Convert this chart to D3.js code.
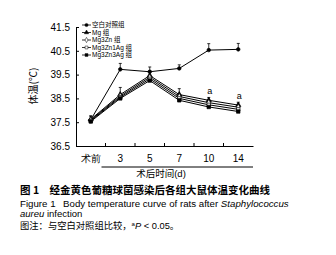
<!DOCTYPE html>
<html><head><meta charset="utf-8">
<script src="https://cdn.jsdelivr.net/npm/d3@7"></script>
<style>body{margin:0;background:#fff}svg{display:block}</style>
</head><body>
<script>
const categories = ["术前","3","5","7","10","14"];
const seriesNames = ["空白对照组","Mg 组","Mg3Zn 组","Mg3Zn1Ag 组","Mg3Zn3Ag 组"];
const control   = [37.6, 39.72, 39.62, 39.76, 40.53, 40.56];
const mg        = [37.62, 38.66, 39.46, 38.66, 38.42, 38.22];
const mg3zn     = [37.59, 38.6, 39.39, 38.58, 38.32, 38.13];
const mg3zn1ag  = [37.56, 38.55, 39.32, 38.5, 38.23, 38.04];
const mg3zn3ag  = [37.53, 38.5, 39.25, 38.42, 38.14, 37.95];
const controlErr = [0.15, 0.25, 0.2, 0.15, 0.27, 0.25];
const mgErr      = [0.15, 0.3, 0.2, 0.25, 0.12, 0.12];
const yTicks = [36.5, 37.5, 38.5, 39.5, 40.5, 41.5];
const sigLabels = ["", "", "", "", "a", "a"];

const W = 336, H = 255;
const svg = d3.select("body").append("svg").attr("width", W).attr("height", H);
const x = d3.scaleBand().domain(categories).range([76, 253]);
const y = d3.scaleLinear().domain([36.5, 41.5]).range([146, 27]);

// axes
const yAxis = svg.append("g").attr("transform","translate(76,0)")
  .call(d3.axisLeft(y).tickValues(yTicks).tickSize(-3).tickPadding(6).tickFormat(d3.format(".1f")));
yAxis.select(".domain").attr("stroke","#000");
yAxis.selectAll("text").attr("font-family","Liberation Sans, Arial, sans-serif").attr("font-size","10px").attr("fill","#000");
yAxis.selectAll("line").attr("stroke","#000");

const xAxis = svg.append("g").attr("transform","translate(0,146)")
  .call(d3.axisBottom(x).tickSize(0).tickPadding(9));
xAxis.select(".domain").attr("stroke","#000");
xAxis.selectAll("text").attr("font-family","Liberation Sans, Arial, sans-serif").attr("font-size","10px").attr("fill","#000");
// small ticks at band boundaries
svg.append("g").selectAll("line").data(categories.slice(1)).join("line")
  .attr("x1", d => x(d)).attr("x2", d => x(d)).attr("y1",146).attr("y2",143).attr("stroke","#000");

// secondary x label
svg.append("line").attr("x1", x("3") - 4).attr("x2", 253).attr("y1",167).attr("y2",167).attr("stroke","#000");
svg.append("text").attr("x", 161).attr("y", 177).attr("text-anchor","middle")
  .attr("font-family","Liberation Sans, Noto Sans CJK SC, sans-serif").attr("font-size","9.5px").text("术后时间(d)");

// y title
svg.append("text").attr("transform","translate(37,86) rotate(-90)").attr("text-anchor","middle")
  .attr("font-family","Noto Sans CJK SC, sans-serif").attr("font-size","10px").text("体温(℃)");

const cx = d => x(d) + x.bandwidth()/2;
const allSeries = [control, mg, mg3zn, mg3zn1ag, mg3zn3ag];
const line = d3.line().x((d,i) => cx(categories[i])).y(d => y(d));

// error bars
function errBars(vals, errs){
  const g = svg.append("g").attr("stroke","#000").attr("stroke-width",0.8);
  vals.forEach((v,i) => {
    const px = cx(categories[i]);
    g.append("line").attr("x1",px).attr("x2",px).attr("y1",y(v+errs[i])).attr("y2",y(v));
    g.append("line").attr("x1",px-1.5).attr("x2",px+1.5).attr("y1",y(v+errs[i])).attr("y2",y(v+errs[i]));
  });
}
errBars(control, controlErr);
errBars(mg, mgErr);

allSeries.forEach(s => {
  svg.append("path").datum(s).attr("d", line).attr("fill","none").attr("stroke","#000").attr("stroke-width",1);
});

const symbols = [d3.symbolCircle, d3.symbolTriangle, d3.symbolDiamond, d3.symbolSquare, d3.symbolSquare];
const fills = ["#000","#000","#fff","#fff","#000"];
allSeries.forEach((s,k) => {
  svg.append("g").selectAll("path").data(s).join("path")
    .attr("transform",(d,i) => `translate(${cx(categories[i])},${y(d)})`)
    .attr("d", d3.symbol().type(symbols[k]).size(k===0?10:12))
    .attr("fill", fills[k]).attr("stroke","#000").attr("stroke-width",0.7);
});

// significance labels
svg.append("g").selectAll("text").data(sigLabels).join("text")
  .attr("x",(d,i) => cx(categories[i]) + 1)
  .attr("y",(d,i) => y(mg[i] + mgErr[i]) - 3)
  .attr("text-anchor","middle").attr("font-family","Liberation Sans, Arial, sans-serif").attr("font-size","9px")
  .text(d => d);

// legend
const legY = [25, 32.5, 40, 47.5, 55];
const lg = svg.append("g");
seriesNames.forEach((n,k) => {
  lg.append("line").attr("x1",82).attr("x2",91).attr("y1",legY[k]).attr("y2",legY[k]).attr("stroke","#000").attr("stroke-width",0.8);
  lg.append("path").attr("transform",`translate(86.5,${legY[k]})`).attr("d", d3.symbol().type(symbols[k]).size(8))
    .attr("fill",fills[k]).attr("stroke","#000").attr("stroke-width",0.5);
  lg.append("text").attr("x",92).attr("y",legY[k]+2.3).attr("font-family","Liberation Sans, Noto Sans CJK SC, sans-serif")
    .attr("font-size","6.5px").text(n);
});

// caption
const cap = svg.append("g").attr("font-family","Liberation Sans, Noto Sans CJK SC, sans-serif").attr("fill","#000");
cap.append("text").attr("x",20).attr("y",194).attr("font-size","10.5px").attr("font-weight","bold")
  .attr("font-family","Noto Sans CJK SC, sans-serif")
  .text("图 1\u2003经金黄色葡糖球菌感染后各组大鼠体温变化曲线");
const t2 = cap.append("text").attr("x",20).attr("y",206.5).attr("font-size","9.7px");
t2.append("tspan").text("Figure 1\u2002 Body temperature curve of rats after ");
t2.append("tspan").attr("font-style","italic").text("Staphylococcus");
const t3 = cap.append("text").attr("x",20).attr("y",217).attr("font-size","9.5px");
t3.append("tspan").attr("font-style","italic").text("aureu");
t3.append("tspan").text(" infection");
const t4 = cap.append("text").attr("x",20).attr("y",228.5).attr("font-size","9.3px");
t4.append("tspan").attr("font-family","Noto Sans CJK SC, sans-serif").text("图注：与空白对照组比较，");
t4.append("tspan").attr("font-size","6px").attr("dy","-3").text("a");
t4.append("tspan").attr("font-style","italic").attr("dy","3").text("P");
t4.append("tspan").text(" < 0.05");
t4.append("tspan").attr("font-family","Noto Sans CJK SC, sans-serif").text("。");
</script>
</body></html>
